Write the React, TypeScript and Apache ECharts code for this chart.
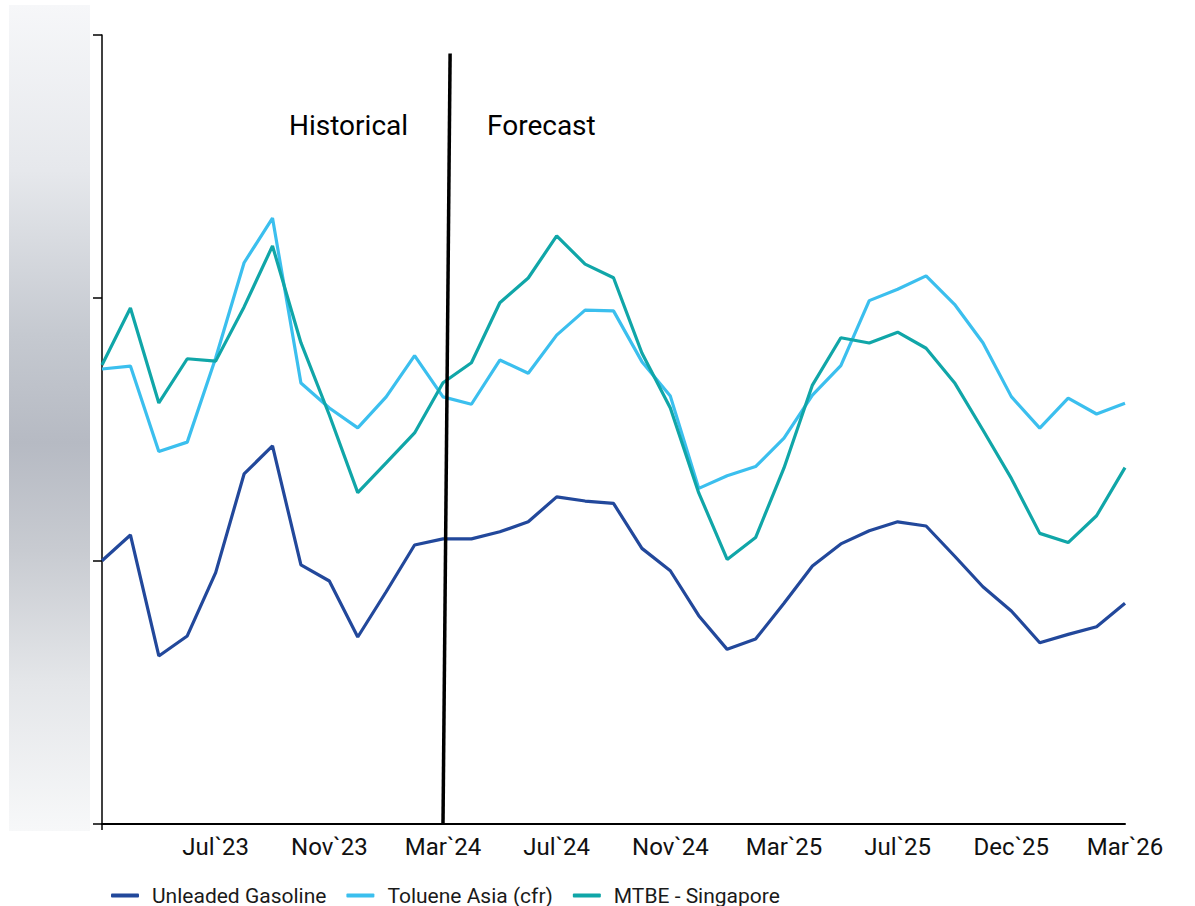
import React, { useEffect, useRef } from "react";
import * as echarts from "echarts";

// Monthly periods, Mar 2023 through Mar 2026
const categories: string[] = [
  "2023-03", "2023-04", "2023-05", "2023-06", "2023-07", "2023-08", "2023-09", "2023-10",
  "2023-11", "2023-12", "2024-01", "2024-02", "2024-03", "2024-04", "2024-05", "2024-06",
  "2024-07", "2024-08", "2024-09", "2024-10", "2024-11", "2024-12", "2025-01", "2025-02",
  "2025-03", "2025-04", "2025-05", "2025-06", "2025-07", "2025-08", "2025-09", "2025-10",
  "2025-11", "2025-12", "2026-01", "2026-02", "2026-03",
];

// Axis labels shown at these category positions
const tickLabelIndex: number[] = [4, 8, 12, 16, 20, 24, 28, 32, 36];
const tickLabelText: string[] = [
  "Jul`23", "Nov`23", "Mar`24", "Jul`24", "Nov`24", "Mar`25", "Jul`25", "Dec`25", "Mar`26",
];

const unleadedGasoline: number[] = [
  100.1, 109.9, 63.9, 71.5, 95.6, 133.1, 143.8, 98.5, 92.4, 71.1, 88.3, 106.1, 108.4,
  108.4, 111.1, 114.9, 124.4, 122.8, 121.9, 104.8, 96.3, 79.2, 66.4, 70.3, 83.9,
  98.1, 106.5, 111.5, 114.9, 113.3, 101.9, 90.2, 81.0, 68.9, 72.1, 75.0, 83.9,
];

const tolueneAsia: number[] = [
  173.0, 174.1, 141.6, 145.2, 177.2, 213.4, 230.4, 167.7, 158.2, 150.6, 162.4, 178.1, 162.4,
  159.6, 176.4, 171.4, 185.9, 195.4, 195.1, 175.8, 162.7, 127.6, 132.4, 135.9, 146.7,
  163.1, 174.3, 199.0, 203.3, 208.4, 197.6, 183.0, 162.5, 150.5, 161.9, 155.9, 160.0,
];

const mtbeSingapore: number[] = [
  174.5, 196.2, 160.1, 176.9, 176.0, 196.6, 219.8, 183.0, 155.5, 126.0, 137.3, 148.7, 167.8,
  175.4, 198.2, 207.6, 223.6, 212.9, 207.7, 179.1, 158.2, 125.9, 100.6, 108.9, 135.4,
  166.9, 184.9, 182.9, 187.0, 180.9, 167.8, 149.8, 131.4, 110.5, 107.0, 117.2, 135.5,
];

const seriesNames: string[] = ["Unleaded Gasoline", "Toluene Asia (cfr)", "MTBE - Singapore"];
const seriesColors: string[] = ["#22489b", "#3bbfee", "#10a6a8"];

// First forecast period (Mar`24)
const forecastStart = 12;

const FONT = "Roboto, 'Noto Sans', sans-serif";

export default function App() {
  const ref = useRef<HTMLDivElement>(null);

  useEffect(() => {
    if (!ref.current) return;
    const chart = echarts.init(ref.current, undefined, { renderer: "svg" });

    const labelFor = (i: number) => {
      const k = tickLabelIndex.indexOf(i);
      return k >= 0 ? tickLabelText[k] : "";
    };

    const data = [unleadedGasoline, tolueneAsia, mtbeSingapore];

    chart.setOption({
      animation: false,
      backgroundColor: "#ffffff",
      grid: { left: 102, right: 70, top: 35, bottom: 82, containLabel: false },
      legend: {
        left: 111,
        top: 885,
        padding: 0,
        itemWidth: 28,
        itemHeight: 4,
        itemGap: 20,
        icon: "roundRect",
        textStyle: {
          fontFamily: FONT,
          fontSize: 21,
          lineHeight: 21,
          color: "#1a1a1a",
          padding: [0, 0, 0, 8],
        },
        data: seriesNames,
      },
      xAxis: {
        type: "category",
        boundaryGap: false,
        data: categories,
        axisLine: { lineStyle: { color: "#000", width: 2 } },
        axisTick: {
          show: true,
          length: 6,
          interval: (index: number) => index === 0,
          lineStyle: { color: "#000", width: 1.5 },
        },
        axisLabel: {
          interval: 0,
          margin: 11,
          fontFamily: FONT,
          fontSize: 24,
          color: "#111",
          formatter: (_v: string, i: number) => labelFor(i),
        },
        splitLine: { show: false },
      },
      yAxis: {
        type: "value",
        min: 0,
        max: 300,
        interval: 100,
        axisLine: { show: true, lineStyle: { color: "#000", width: 1.5 } },
        axisTick: { show: true, length: 9, lineStyle: { color: "#000", width: 1.5 } },
        axisLabel: { show: false },
        splitLine: { show: false },
      },
      series: seriesNames.map((name, k) => ({
        name,
        type: "line",
        data: data[k],
        symbol: "none",
        lineStyle: { color: seriesColors[k], width: 3.2 },
        itemStyle: { color: seriesColors[k] },
        z: 3 + k,
      })),
    });

    // Historical / forecast divider and captions
    const p0 = chart.convertToPixel({ xAxisIndex: 0, yAxisIndex: 0 }, [forecastStart, 0]) as number[];
    const p1 = chart.convertToPixel({ xAxisIndex: 0, yAxisIndex: 0 }, [forecastStart + 1, 293]) as number[];
    const step = p1[0] - p0[0];
    const topX = p0[0] + step * 0.25;
    const topY = p1[1];

    chart.setOption({
      graphic: [
        {
          type: "rect",
          z: 0,
          shape: { x: 9, y: 5, width: 81, height: 826 },
          style: {
            fill: new echarts.graphic.LinearGradient(0, 0, 0, 1, [
              { offset: 0, color: "#f6f7f9" },
              { offset: 0.2, color: "#e6e8ec" },
              { offset: 0.4, color: "#c5c9d0" },
              { offset: 0.53, color: "#b6bac3" },
              { offset: 0.66, color: "#c8cbd1" },
              { offset: 0.82, color: "#e4e6e9" },
              { offset: 1, color: "#f7f8f9" },
            ]),
          },
        },
        {
          type: "line",
          z: 10,
          shape: { x1: topX, y1: topY, x2: p0[0], y2: p0[1] },
          style: { stroke: "#000", lineWidth: 3.5 },
        },
        {
          type: "text",
          z: 10,
          x: 289,
          y: 125,
          style: {
            text: "Historical",
            fontFamily: FONT,
            fontSize: 28,
            fill: "#000",
            textVerticalAlign: "middle",
          },
        },
        {
          type: "text",
          z: 10,
          x: 487,
          y: 125,
          style: {
            text: "Forecast",
            fontFamily: FONT,
            fontSize: 28,
            fill: "#000",
            textVerticalAlign: "middle",
          },
        },
      ],
    });

    return () => chart.dispose();
  }, []);

  return (
    <div
      ref={ref}
      style={{ position: "fixed", left: 0, top: 0, width: 1195, height: 906, background: "#fff" }}
    />
  );
}
